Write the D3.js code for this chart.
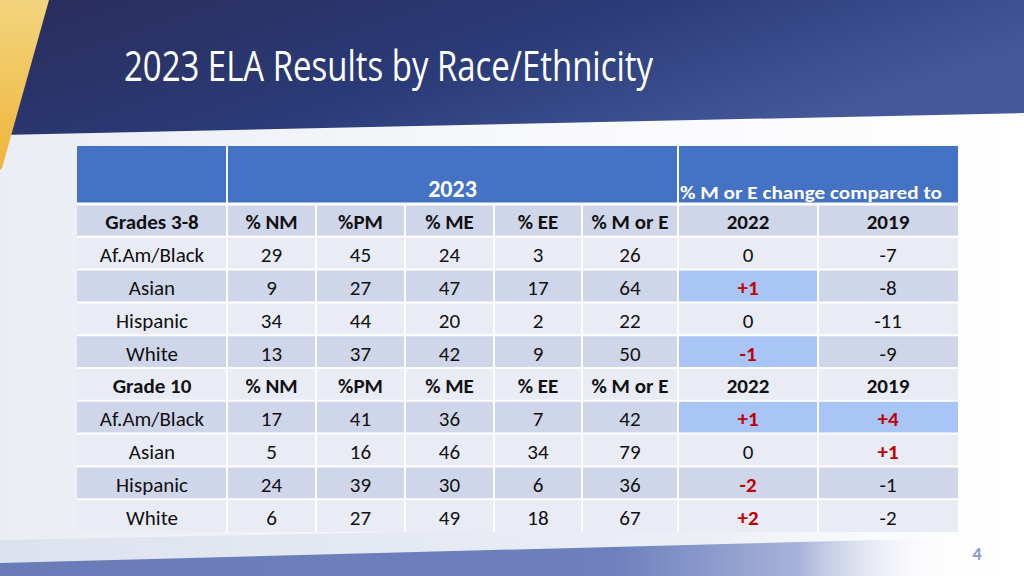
<!DOCTYPE html>
<html><head><meta charset="utf-8">
<script src="https://cdn.jsdelivr.net/npm/d3@7"></script>
<style>html,body{margin:0;padding:0;background:#fff;}svg{display:block;}</style>
</head><body>
<svg id="c" width="1024" height="576"></svg>
<script>
const title = "2023 ELA Results by Race/Ethnicity";
const columns = ["group","nm","pm","me","ee","moe","c2022","c2019"];
const colWidths = [150, 89, 89, 89, 88, 96, 140, 140];
const headerLabels = ["", "% NM", "%PM", "% ME", "% EE", "% M or E", "2022", "2019"];
const sectionLabels = ["Grades 3-8", "Grade 10"];
const groups = ["Af.Am/Black", "Asian", "Hispanic", "White"];
const g38_nm = [29, 9, 34, 13];
const g38_pm = [45, 27, 44, 37];
const g38_me = [24, 47, 20, 42];
const g38_ee = [3, 17, 2, 9];
const g38_moe = [26, 64, 22, 50];
const g38_c2022 = ["0", "+1", "0", "-1"];
const g38_c2019 = ["-7", "-8", "-11", "-9"];
const g10_nm = [17, 5, 24, 6];
const g10_pm = [41, 16, 39, 27];
const g10_me = [36, 46, 30, 49];
const g10_ee = [7, 34, 6, 18];
const g10_moe = [42, 79, 36, 67];
const g10_c2022 = ["+1", "0", "-2", "+2"];
const g10_c2019 = ["+4", "+1", "-1", "-2"];
// cells flagged red (bold) and highlighted (light blue fill)
const redCells = ["g38-1-c2022","g38-3-c2022","g10-0-c2022","g10-0-c2019","g10-1-c2019","g10-2-c2022","g10-3-c2022"];
const hiCells = ["g38-1-c2022","g38-3-c2022","g10-0-c2022","g10-0-c2019"];

const svg = d3.select("#c");
const defs = svg.append("defs");

// background
const bg = defs.append("linearGradient").attr("id","bg").attr("x1",0).attr("y1",0).attr("x2",1).attr("y2",0);
bg.append("stop").attr("offset",0).attr("stop-color","#eaedf4");
bg.append("stop").attr("offset",0.5).attr("stop-color","#f7f8fb");
bg.append("stop").attr("offset",1).attr("stop-color","#ffffff");
svg.append("rect").attr("width",1024).attr("height",576).attr("fill","url(#bg)");

// bottom swoosh
const sw1 = defs.append("linearGradient").attr("id","sw1").attr("x1",0).attr("y1",0).attr("x2",1).attr("y2",0);
sw1.append("stop").attr("offset",0).attr("stop-color","#dde2ef");
sw1.append("stop").attr("offset",0.7).attr("stop-color","#eceff6");
sw1.append("stop").attr("offset",1).attr("stop-color","#ffffff").attr("stop-opacity",0);
svg.append("path").attr("d","M0,540 L1024,520 L1024,576 L0,576 Z").attr("fill","url(#sw1)");
const sw2 = defs.append("linearGradient").attr("id","sw2").attr("x1",0).attr("y1",0).attr("x2",1).attr("y2",0);
sw2.append("stop").attr("offset",0).attr("stop-color","#6a7cb8");
sw2.append("stop").attr("offset",0.6).attr("stop-color","#6d80bd");
sw2.append("stop").attr("offset",0.78).attr("stop-color","#a7b3da");
sw2.append("stop").attr("offset",0.92).attr("stop-color","#ffffff").attr("stop-opacity",0);
svg.append("path").attr("d","M0,563 L950,538 L1024,536 L1024,576 L0,576 Z").attr("fill","url(#sw2)");

// header banner
const ban = defs.append("linearGradient").attr("id","ban").attr("x1",0).attr("y1",0).attr("x2",1).attr("y2",0.4);
ban.append("stop").attr("offset",0).attr("stop-color","#2a2d5c");
ban.append("stop").attr("offset",0.55).attr("stop-color","#2a3b78");
ban.append("stop").attr("offset",1).attr("stop-color","#45599a");
svg.append("path").attr("d","M0,0 L1024,0 L1024,113 L0,135 Z").attr("fill","url(#ban)");
const yel = defs.append("linearGradient").attr("id","yel").attr("x1",0).attr("y1",0).attr("x2",0).attr("y2",1);
yel.append("stop").attr("offset",0).attr("stop-color","#f3d47e");
yel.append("stop").attr("offset",1).attr("stop-color","#efb53a");
svg.append("path").attr("d","M0,0 L49,0 L2,168 L0,170 Z").attr("fill","url(#yel)");

svg.append("text").attr("x",124).attr("y",81).attr("fill","#ffffff")
  .attr("font-family","'Open Sans', Lato, sans-serif").attr("font-weight",400).attr("font-size",42)
  .attr("textLength",529).attr("lengthAdjust","spacingAndGlyphs").text(title);

// table scales
const tableX = 77;
const xStart = {}; let acc = tableX;
columns.forEach((c,i)=>{ xStart[c]=acc; acc+=colWidths[i]; });
const x = d3.scaleOrdinal().domain(columns).range(columns.map(c=>xStart[c]));
const w = d3.scaleOrdinal().domain(columns).range(colWidths);

const rowKeys = ["top"];
sectionLabels.forEach((s,si)=>{ rowKeys.push("h"+si); groups.forEach((g,gi)=>rowKeys.push("r"+si+"-"+gi)); });
const y = d3.scaleBand().domain(rowKeys.slice(1)).range([204,532]);
const topY0 = 146, topY1 = 204;

const font = "Calibri, Carlito, Lato, 'Open Sans', sans-serif";
const T = svg.append("g");

// top blue header row
T.append("rect").attr("x",x("group")).attr("y",topY0).attr("width",w("group")).attr("height",topY1-topY0).attr("fill","#4472c4");
T.append("rect").attr("x",x("nm")).attr("y",topY0).attr("width",xStart.c2022-xStart.nm).attr("height",topY1-topY0).attr("fill","#4472c4");
T.append("rect").attr("x",x("c2022")).attr("y",topY0).attr("width",w("c2022")+w("c2019")).attr("height",topY1-topY0).attr("fill","#4472c4");
T.append("text").attr("x",(xStart.nm+xStart.c2022)/2).attr("y",197).attr("text-anchor","middle")
  .attr("fill","#fff").attr("font-family",font).attr("font-weight",700).attr("font-size",24).text("2023");
T.append("text").attr("x",xStart.c2022+2).attr("y",199).attr("fill","#fff")
  .attr("font-family",font).attr("font-weight",700).attr("font-size",19).attr("textLength",262).attr("lengthAdjust","spacingAndGlyphs")
  .text("% M or E change compared to");

const secData = [
  {nm:g38_nm,pm:g38_pm,me:g38_me,ee:g38_ee,moe:g38_moe,c2022:g38_c2022,c2019:g38_c2019,key:"g38"},
  {nm:g10_nm,pm:g10_pm,me:g10_me,ee:g10_ee,moe:g10_moe,c2022:g10_c2022,c2019:g10_c2019,key:"g10"}
];
const cells = [];
sectionLabels.forEach((s,si)=>{
  const rk = "h"+si; const band = y.domain().indexOf(rk);
  columns.forEach((c,ci)=>cells.push({row:rk, col:c, text: ci===0 ? s : headerLabels[ci], bold:true, band}));
  groups.forEach((g,gi)=>{
    const rk2 = "r"+si+"-"+gi; const b2 = y.domain().indexOf(rk2);
    columns.forEach(c=>{
      const id = secData[si].key+"-"+gi+"-"+c;
      const val = c==="group" ? g : String(secData[si][c][gi]);
      cells.push({row:rk2, col:c, text:val, bold:redCells.includes(id), red:redCells.includes(id), hi:hiCells.includes(id), band:b2});
    });
  });
});

T.selectAll("rect.cell").data(cells).join("rect").attr("class","cell")
  .attr("x",d=>x(d.col)).attr("y",d=>y(d.row)).attr("width",d=>w(d.col)).attr("height",y.bandwidth())
  .attr("fill",d=> d.hi ? "#a9c5f6" : (d.band%2===0 ? "#d0d6ea" : "#e9ebf5"));
T.selectAll("text.cell").data(cells).join("text").attr("class","cell")
  .attr("x",d=>x(d.col)+w(d.col)/2).attr("y",d=>y(d.row)+y.bandwidth()/2+9)
  .attr("text-anchor","middle").attr("font-family",font).attr("font-size",21)
  .attr("font-weight",d=>d.bold?700:400).attr("fill",d=>d.red?"#c00000":"#111111").text(d=>d.text);

// white grid lines
const vx = columns.slice(1).map(c=>x(c));
T.selectAll("line.v").data(vx).join("line").attr("class","v")
  .attr("x1",d=>d).attr("x2",d=>d).attr("y1",d=> (d===xStart.nm||d===xStart.c2022)?topY0:topY1).attr("y2",532)
  .attr("stroke","#fff").attr("stroke-width",2);
const hy = [topY1].concat(y.domain().slice(1).map(r=>y(r)));
T.selectAll("line.h").data(hy).join("line").attr("class","h")
  .attr("x1",tableX).attr("x2",acc).attr("y1",d=>d).attr("y2",d=>d).attr("stroke","#fff").attr("stroke-width",d=>d===topY1?3:2);

svg.append("text").attr("x",977).attr("y",560).attr("text-anchor","middle").attr("fill","#8b9ad5")
  .attr("font-family",font).attr("font-weight",700).attr("font-size",18).text("4");
</script>
</body></html>
